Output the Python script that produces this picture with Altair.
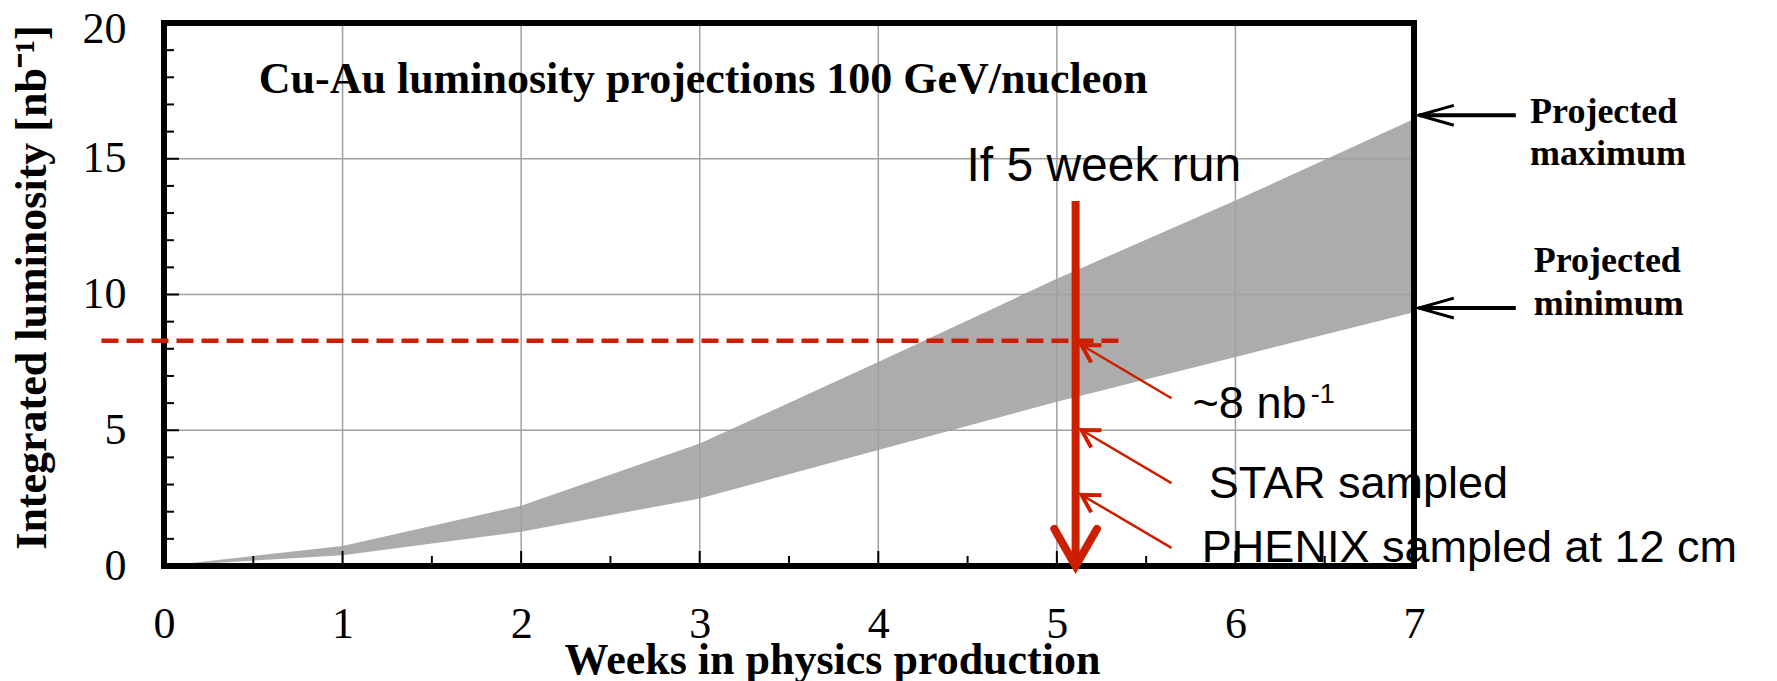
import altair as alt
import pandas as pd

# ---------------- data ----------------
weeks = [0, 1, 2, 3, 4, 5, 6, 7]
lum_max = [0, 0.74, 2.22, 4.51, 7.51, 10.58, 13.46, 16.46]
lum_min = [0, 0.40, 1.26, 2.49, 4.27, 6.05, 7.70, 9.35]

x_tick_values = [0, 1, 2, 3, 4, 5, 6, 7]
y_tick_values = [0, 5, 10, 15, 20]
x_grid = [1, 2, 3, 4, 5, 6]
y_grid = [5, 10, 15]
x_major_ticks = [1, 2, 3, 4, 5, 6]
x_minor_ticks = [0.5, 1.5, 2.5, 3.5, 4.5, 5.5, 6.5]
y_major_ticks = [5, 10, 15]
y_minor_ticks = [1, 2, 3, 4, 6, 7, 8, 9, 11, 12, 13, 14, 16, 17, 18, 19]

run_week = [5.105]
run_top = [13.44]
run_bottom = [0]

target_lum = [8.30]
target_x0 = [-0.35]
target_x1 = [5.375]

pointer_tail_x = [5.642, 5.642, 5.642]
pointer_tail_y = [6.18, 3.05, 0.67]
pointer_tip_x = [5.138, 5.138, 5.138]
pointer_tip_y = [8.14, 5.01, 2.62]

proj_arrow_tip_x = [7.027, 7.027]
proj_arrow_tail_x = [7.57, 7.57]
proj_arrow_y = [16.6, 9.5]

title_text = ["Cu-Au luminosity projections 100 GeV/nucleon"]
title_x = [3.02]
title_y = [17.42]

sans_labels = ["If 5 week run", "~8 nb", "STAR sampled", "PHENIX sampled at 12 cm"]
sans_x = [5.263, 5.76, 5.851, 5.812]
sans_y = [14.18, 5.45, 2.50, 0.15]
sans_align = ["center", "left", "left", "left"]

sup_labels = ["-1"]
sup_x = [6.422]
sup_y = [6.00]

proj_labels = ["Projected", "maximum", "Projected", "minimum"]
proj_x = [7.65, 7.65, 7.67, 7.67]
proj_y = [16.32, 14.77, 10.83, 9.24]

# ---------------- layout ----------------
W, H = 1250, 543
RED = "#cc1f00"
SERIF = "Liberation Serif"
SANS = "Liberation Sans"

xs = alt.Scale(domain=[0, 7], nice=False, zero=False)
ys = alt.Scale(domain=[0, 20], nice=False, zero=False)

band_df = pd.DataFrame({"week": weeks, "lo": lum_min, "hi": lum_max})

X_AXIS = alt.Axis(
    values=x_tick_values, format="d", grid=False, ticks=False, tickSize=0, domain=False,
    labelFont=SERIF, labelFontSize=44, labelColor="black", labelBaseline="alphabetic",
    labelPadding=71, labelFlush=False, labelOverlap=False,
    title="Weeks in physics production", titleFont=SERIF, titleFontSize=44,
    titleFontWeight="bold", titleColor="black", titleX=668, titleY=107,
    titleBaseline="alphabetic", titleAlign="center",
)
Y_AXIS = alt.Axis(
    values=y_tick_values, format="d", grid=False, ticks=False, tickSize=0, domain=False,
    labelFont=SERIF, labelFontSize=44, labelColor="black", labelPadding=38,
    labelFlush=False, labelOverlap=False,
    labelOffset={"condition": {"test": "datum.value === 20", "value": 6}, "value": 0},
    title="Integrated luminosity [nb\u207b\u00b9]", titleFont=SERIF, titleFontSize=44,
    titleFontWeight="bold", titleColor="black", titleX=-119, titleY=264,
    titleAngle=270, titleBaseline="alphabetic", titleAlign="center",
)


def X(field):
    return alt.X(field, type="quantitative", scale=xs, axis=X_AXIS)


def Y(field):
    return alt.Y(field, type="quantitative", scale=ys, axis=Y_AXIS)


band = alt.Chart(band_df).mark_area(color="#adacad", opacity=1, interpolate="linear").encode(
    x=X("week"), y=Y("hi"), y2="lo:Q",
)

GRID = "#a0a0a0"
vgrid = alt.Chart(pd.DataFrame({"gx": x_grid})).mark_rule(color=GRID, strokeWidth=1.5).encode(
    x=X("gx"), y=alt.value(0), y2=alt.value(H))
hgrid = alt.Chart(pd.DataFrame({"gy": y_grid})).mark_rule(color=GRID, strokeWidth=1.5).encode(
    y=Y("gy"), x=alt.value(0), x2=alt.value(W))

xmaj = alt.Chart(pd.DataFrame({"t": x_major_ticks})).mark_rule(color="black", strokeWidth=2).encode(
    x=X("t"), y=alt.value(H), y2=alt.value(H - 15))
xmin = alt.Chart(pd.DataFrame({"t": x_minor_ticks})).mark_rule(color="black", strokeWidth=2).encode(
    x=X("t"), y=alt.value(H), y2=alt.value(H - 10))
ymaj = alt.Chart(pd.DataFrame({"t": y_major_ticks})).mark_rule(color="black", strokeWidth=2).encode(
    y=Y("t"), x=alt.value(0), x2=alt.value(15))
ymin = alt.Chart(pd.DataFrame({"t": y_minor_ticks})).mark_rule(color="black", strokeWidth=2).encode(
    y=Y("t"), x=alt.value(0), x2=alt.value(10))

border = alt.Chart(pd.DataFrame({"b": [0]})).mark_rect(
    fill="transparent", stroke="black", strokeWidth=6).encode(
    x=alt.value(0), x2=alt.value(W), y=alt.value(0), y2=alt.value(H))

dash_df = pd.DataFrame({"x0": target_x0, "x1": target_x1, "y": target_lum})
dashed = alt.Chart(dash_df).mark_rule(color=RED, strokeWidth=4.5, strokeDash=[17, 8]).encode(
    x=X("x0"), x2="x1:Q", y=Y("y"))

run_df = pd.DataFrame({"x": run_week, "top": run_top, "bot": run_bottom})
shaft = alt.Chart(run_df).mark_rule(color=RED, strokeWidth=8).encode(
    x=X("x"), y=Y("top"), y2="bot:Q")
CHEV_MAIN = "M2,-1.15L0,0L2,1.15"
head = alt.Chart(run_df).mark_point(
    shape=CHEV_MAIN, size=1369, filled=False, stroke=RED, strokeWidth=8, opacity=1,
    angle=270, strokeCap="round", strokeJoin="miter").encode(
    x=X("x"), y=Y("bot"))

ptr_df = pd.DataFrame({"tx": pointer_tail_x, "ty": pointer_tail_y,
                       "hx": pointer_tip_x, "hy": pointer_tip_y})
ptr_lines = alt.Chart(ptr_df).mark_rule(color=RED, strokeWidth=2.5).encode(
    x=X("tx"), y=Y("ty"), x2="hx:Q", y2="hy:Q")
CHEV_SMALL = "M2,-1.155L0,0L2,1.155"
ptr_heads = alt.Chart(ptr_df).mark_point(
    shape=CHEV_SMALL, size=300, filled=False, stroke=RED, strokeWidth=4, opacity=1,
    angle=31).encode(x=X("hx"), y=Y("hy"))

proj_df = pd.DataFrame({"tip": proj_arrow_tip_x, "tail": proj_arrow_tail_x, "y": proj_arrow_y})
proj_lines = alt.Chart(proj_df).mark_rule(color="black", strokeWidth=4).encode(
    x=X("tip"), x2="tail:Q", y=Y("y"))
CHEV_BLACK = "M2,-0.57L0,0L2,0.57"
proj_heads = alt.Chart(proj_df).mark_point(
    shape=CHEV_BLACK, size=1225, filled=False, stroke="black", strokeWidth=3, opacity=1).encode(
    x=X("tip"), y=Y("y"))

title_df = pd.DataFrame({"t": title_text, "x": title_x, "y": title_y})
title_mark = alt.Chart(title_df).mark_text(
    font=SERIF, fontSize=44, fontWeight="bold", color="black",
    align="center", baseline="alphabetic").encode(x=X("x"), y=Y("y"), text="t:N")

sans_df = pd.DataFrame({"t": sans_labels, "x": sans_x, "y": sans_y, "a": sans_align})
sans_center = alt.Chart(sans_df[sans_df.a == "center"]).mark_text(
    font=SANS, fontSize=48, color="black", align="center", baseline="alphabetic").encode(
    x=X("x"), y=Y("y"), text="t:N")
sans_left = alt.Chart(sans_df[sans_df.a == "left"]).mark_text(
    font=SANS, fontSize=45, color="black", align="left", baseline="alphabetic").encode(
    x=X("x"), y=Y("y"), text="t:N")

sup_df = pd.DataFrame({"t": sup_labels, "x": sup_x, "y": sup_y})
sup_text = alt.Chart(sup_df).mark_text(
    font=SANS, fontSize=27, color="black", align="left", baseline="alphabetic").encode(
    x=X("x"), y=Y("y"), text="t:N")

proj_text_df = pd.DataFrame({"t": proj_labels, "x": proj_x, "y": proj_y})
proj_text = alt.Chart(proj_text_df).mark_text(
    font=SERIF, fontSize=36, fontWeight="bold", color="black",
    align="left", baseline="alphabetic").encode(x=X("x"), y=Y("y"), text="t:N")

chart = alt.layer(
    band, vgrid, hgrid, xmaj, xmin, ymaj, ymin, border,
    dashed, shaft, head, ptr_lines, ptr_heads, proj_lines, proj_heads,
    title_mark, sans_center, sans_left, sup_text, proj_text,
).properties(
    width=W, height=H,
    padding={"left": 156, "top": 15, "right": 355, "bottom": 115},
    autosize=alt.AutoSizeParams(type="none"),
    background="white",
).configure_view(stroke=None)

chart.save("out.html", embed_options={"renderer": "svg", "actions": False})
